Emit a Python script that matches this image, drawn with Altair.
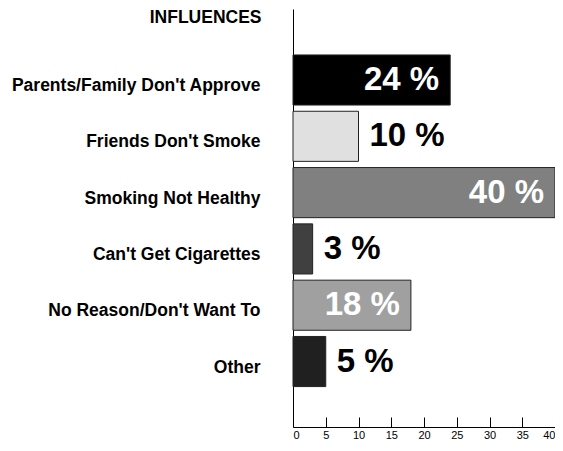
import altair as alt
import pandas as pd

categories = ["Parents/Family Don't Approve", "Friends Don't Smoke", "Smoking Not Healthy",
              "Can't Get Cigarettes", "No Reason/Don't Want To", "Other"]
values = [24, 10, 40, 3, 18, 5]
labels = ["24 %", "10 %", "40 %", "3 %", "18 %", "5 %"]
bar_colors = ["#000000", "#e0e0e0", "#808080", "#404040", "#a0a0a0", "#202020"]
inside = [True, False, True, False, True, False]
tick_values = [0, 5, 10, 15, 20, 25, 30, 35, 40]

df = pd.DataFrame({"cat": categories, "value": values, "label": labels,
                   "color": bar_colors, "inside": inside})

font = "Liberation Sans"
H = 418
W = 262
yscale = alt.Scale(domain=categories, paddingInner=0.11, paddingOuter=0.767, align=0.532)
xscale = alt.Scale(domain=[0, 40], nice=False)

xaxis = alt.Axis(orient="top", offset=-H, values=tick_values, ticks=True, tickSize=10,
                 tickColor="black", grid=False, domain=True, domainColor="black",
                 title=None, labelFont=font, labelFontSize=11, labelColor="black",
                 labelBaseline="top", labelPadding=-12)
yaxis = alt.Axis(title="INFLUENCES", titleAngle=0, titleAlign="right",
                 titleBaseline="middle", titleX=-32, titleY=8,
                 titleFont=font, titleFontSize=17.5, titleFontWeight="bold",
                 titleColor="black",
                 ticks=False, domainColor="black", labelFont=font,
                 labelFontSize=17.5, labelFontWeight="bold", labelColor="black",
                 labelPadding=33, labelOffset=6, labelLimit=400)

X = alt.X("value:Q", scale=xscale, axis=xaxis)
Y = alt.Y("cat:N", scale=yscale, sort=categories, axis=yaxis)

base = alt.Chart(df)

bars = base.mark_bar(stroke="#222222", strokeWidth=1).encode(
    x=X, y=Y, color=alt.Color("color:N", scale=None))

text_in = base.transform_filter("datum.inside").mark_text(
    align="right", baseline="middle", dx=-11, font=font, fontSize=33,
    fontWeight="bold", color="white").encode(x=X, y=Y, text="label:N")

text_out = base.transform_filter("!datum.inside").mark_text(
    align="left", baseline="middle", dx=11, font=font, fontSize=33,
    fontWeight="bold", color="black").encode(x=X, y=Y, text="label:N")

chart = alt.layer(bars, text_in, text_out).properties(
    width=W, height=H,
    autosize=alt.AutoSizeParams(type="none"),
    padding={"left": 285, "top": 1, "right": 0, "bottom": 16},
).configure_view(stroke=None)

chart.save("out.html", embed_options={"renderer": "svg", "actions": False})
